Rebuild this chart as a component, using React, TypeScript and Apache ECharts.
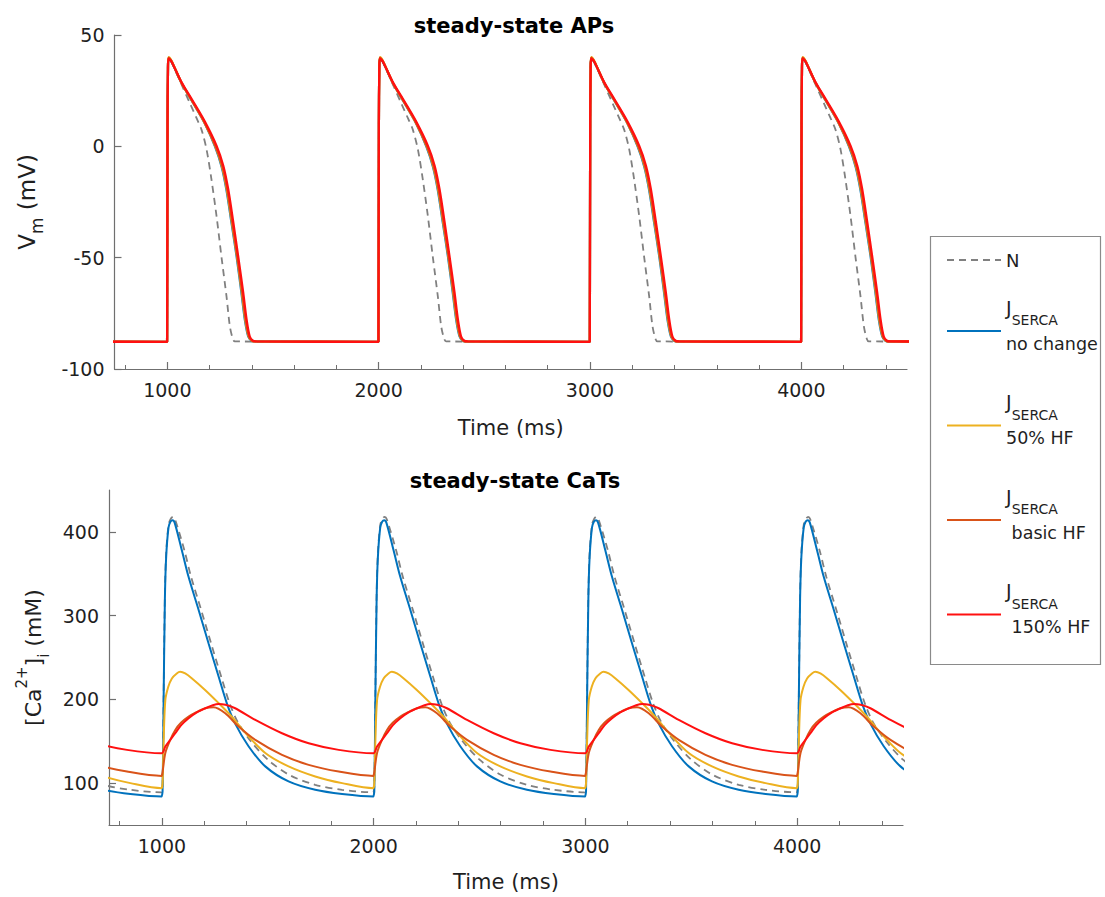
import React, { useEffect, useRef } from "react";
import * as echarts from "echarts";

// ---------- data ----------
// stimulus times of each beat (ms); every beat is the same steady-state waveform
const BEAT_STARTS = [0, 1000, 2000, 3000, 4000];

const X_TICKS = [1000, 2000, 3000, 4000];
const X_MINOR_TICKS = [800, 1200, 1400, 1600, 1800, 2200, 2400, 2600, 2800, 3200, 3400, 3600, 3800, 4200, 4400];
const CA_TICKS = [100, 200, 300, 400];

// ---- action potentials: time after stimulus (ms) / Vm (mV)
const N_AP_T = [0, 1, 3, 6, 20, 68, 107, 140, 162, 186, 209, 233, 256, 280, 296, 310, 319, 999];
const N_AP = [-87.6, 10, 35, 39.5, 37.8, 27.6, 19.3, 12.3, 7.4, -1.6, -15, -31.5, -49.5, -67.4, -80.9, -86.5, -87.6, -87.8];

const BLUE_AP_T = [0, 1, 3, 6, 20, 68, 115, 178, 226, 257, 280, 304, 328, 351, 367, 383, 398, 415, 999];
const BLUE_AP = [-87.6, 10, 35, 39.5, 38, 28.3, 20.6, 10.2, -0.1, -9.1, -19.6, -34.5, -49.5, -65.9, -77.9, -85.4, -87.3, -87.6, -87.8];

const YEL_AP_T = [0, 1, 3, 6, 20, 68, 115, 178, 228, 259, 282, 306, 330, 353, 369, 385, 400, 417, 999];
const YEL_AP = [-87.6, 10, 35, 40, 38.3, 28.3, 20.7, 10.3, -0.1, -9.1, -19.6, -34.5, -49.5, -65.9, -77.9, -85.4, -87.3, -87.6, -87.8];

const ORG_AP_T = [0, 1, 3, 6, 20, 68, 115, 178, 229, 261, 284, 308, 331, 355, 371, 386, 401, 418, 999];
const ORG_AP = [-87.6, 10, 35, 39.8, 38.2, 28.3, 20.8, 10.4, -0.1, -9.1, -19.6, -34.5, -49.5, -65.9, -77.9, -85.4, -87.3, -87.6, -87.8];

const RED_AP_T = [0, 1, 3, 6, 20, 68, 115, 178, 233, 265, 288, 312, 335, 359, 375, 390, 405, 422, 999];
const RED_AP = [-87.6, 10, 35, 39.5, 38, 28.6, 21.2, 11, 0.2, -8.8, -19.3, -34.2, -49.3, -65.7, -77.8, -85.4, -87.3, -87.6, -87.8];

// ---- calcium transients: time after stimulus (ms) / [Ca2+]i
const N_CA_T = [0, 3, 8, 14, 20, 31, 40, 52, 62, 106, 138, 185, 232, 280, 320, 360, 420, 500, 600, 724, 851, 999];
const N_CA = [89, 95, 205, 325, 375, 408, 415, 418, 415, 378, 346, 307, 267, 227, 195, 172, 150, 128, 110, 98, 92, 89];

const BLUE_CA_T = [0, 3, 8, 14, 20, 31, 40, 50, 60, 94, 126, 173, 220, 268, 307, 346, 409, 488, 598, 724, 851, 999];
const BLUE_CA = [84, 90, 200, 320, 370, 405, 412, 414, 411, 378, 346, 307, 267, 227, 195, 171, 144, 120, 102, 92, 87, 84];

const YEL_CA_T = [0, 3, 8, 16, 30, 47, 70, 86, 110, 142, 205, 268, 331, 394, 488, 598, 724, 851, 999];
const YEL_CA = [94, 100, 150, 199, 215, 225, 231, 233, 231, 225, 211, 195.5, 179, 160, 136, 120, 108, 100, 94];

const ORG_CA_T = [0, 3, 16, 40, 63, 90, 126, 165, 205, 244, 299, 362, 441, 567, 693, 835, 999];
const ORG_CA = [108.6, 113, 136, 152, 163.5, 172, 179.4, 185, 189.4, 190.6, 183.4, 167.5, 151.6, 133.7, 121.8, 113.8, 108.6];

const RED_CA_T = [0, 5, 16, 40, 63, 90, 126, 165, 205, 240, 268, 300, 346, 441, 567, 693, 835, 999];
const RED_CA = [135.7, 137, 143.6, 152, 159.6, 169, 177.5, 184.5, 189.4, 193, 194.5, 193.5, 189.4, 175.5, 159.6, 147.6, 139.7, 135.7];

const NAMES = ["N", "no change", "50% HF", " basic HF", " 150% HF"];
const COLORS = ["#808080", "#0072BD", "#EDB120", "#D95319", "#FF1010"];

// ---------- helpers ----------
function beats(offsets: number[], values: number[]) {
  const out: number[][] = [];
  for (const b of BEAT_STARTS) {
    for (let i = 0; i < offsets.length; i++) out.push([b + offsets[i], values[i]]);
  }
  return out;
}

const FONT = "'DejaVu Sans', 'Liberation Sans', Arial, sans-serif";
const AXIS_COLOR = "#6f6f6f";
const TEXT_COLOR = "#1f1f1f";

function lineSeries(idx: number, data: number[][], ap: boolean) {
  const dashed = idx === 0;
  return {
    type: "line",
    name: NAMES[idx],
    xAxisIndex: ap ? 0 : 2,
    yAxisIndex: ap ? 0 : 1,
    data,
    symbol: "none",
    showSymbol: false,
    smooth: 0.3,
    clip: true,
    color: COLORS[idx],
    lineStyle: {
      color: COLORS[idx],
      width: dashed ? 1.8 : ap ? 2.3 : 2,
      type: dashed ? [7, 5] : "solid",
    },
    emphasis: { disabled: true },
    z: 2 + idx,
  };
}

function xAxes(gridIndex: number) {
  return [
    {
      type: "value",
      gridIndex,
      min: 750,
      max: 4500,
      position: "bottom",
      name: "Time (ms)",
      nameLocation: "middle",
      nameGap: gridIndex === 0 ? 48 : 46,
      nameTextStyle: { fontSize: 21, color: TEXT_COLOR, fontFamily: FONT },
      axisLine: { show: true, onZero: false, lineStyle: { color: AXIS_COLOR, width: 1.2 } },
      axisTick: { show: true, inside: true, length: 7, customValues: X_TICKS, lineStyle: { color: AXIS_COLOR, width: 1.2 } },
      axisLabel: {
        show: true,
        customValues: X_TICKS,
        margin: 11,
        fontSize: 19,
        color: TEXT_COLOR,
        fontFamily: FONT,
        formatter: (v: number) => String(v),
      },
      splitLine: { show: false },
    },
    {
      type: "value",
      gridIndex,
      min: 750,
      max: 4500,
      position: "bottom",
      axisLine: { show: false, onZero: false },
      axisTick: { show: true, inside: true, length: 4, customValues: X_MINOR_TICKS, lineStyle: { color: AXIS_COLOR, width: 1 } },
      axisLabel: { show: false },
      splitLine: { show: false },
    },
  ];
}

const legendRich = {
  t: { fontSize: 18, lineHeight: 22, color: TEXT_COLOR, fontFamily: FONT },
  j: { fontSize: 19, lineHeight: 8, color: TEXT_COLOR, fontFamily: FONT },
  g: { fontSize: 18, lineHeight: 17, color: TEXT_COLOR, fontFamily: FONT },
  s: { fontSize: 14, lineHeight: 17, color: TEXT_COLOR, fontFamily: FONT },
  u: { fontSize: 17.5, lineHeight: 30, color: TEXT_COLOR, fontFamily: FONT },
};

const option: any = {
  animation: false,
  backgroundColor: "#ffffff",
  textStyle: { fontFamily: FONT },
  title: [
    {
      text: "steady-state APs",
      left: 509,
      top: 10,
      textAlign: "center",
      textStyle: { fontSize: 21, fontWeight: "bold", color: "#000", fontFamily: FONT },
    },
    {
      text: "steady-state CaTs",
      left: 510,
      top: 465,
      textAlign: "center",
      textStyle: { fontSize: 21, fontWeight: "bold", color: "#000", fontFamily: FONT },
    },
  ],
  grid: [
    { left: 113, width: 794, top: 35, height: 334, containLabel: false },
    { left: 109, width: 794, top: 490, height: 335, containLabel: false },
  ],
  xAxis: [...xAxes(0), ...xAxes(1)],
  yAxis: [
    {
      type: "value",
      gridIndex: 0,
      min: -100,
      max: 50,
      interval: 50,
      name: "{a|V}{b|m}{a| (mV)}",
      nameLocation: "middle",
      nameRotate: 90,
      nameGap: 76,
      nameTextStyle: {
        rich: {
          a: { fontSize: 23, lineHeight: 24, color: TEXT_COLOR, fontFamily: FONT },
          b: { fontSize: 17, lineHeight: 16, padding: [20, 0, 0, 0], color: TEXT_COLOR, fontFamily: FONT },
        },
      },
      axisLine: { show: true, onZero: false, lineStyle: { color: AXIS_COLOR, width: 1.2 } },
      axisTick: { show: true, inside: true, length: 7, lineStyle: { color: AXIS_COLOR, width: 1.2 } },
      axisLabel: { margin: 10, fontSize: 19, color: TEXT_COLOR, fontFamily: FONT },
      splitLine: { show: false },
    },
    {
      type: "value",
      gridIndex: 1,
      min: 50,
      max: 450,
      name: "{a|[Ca}{p|2+}{a|]}{b|i}{a| (mM)}",
      nameLocation: "middle",
      nameRotate: 90,
      nameGap: 64,
      nameTextStyle: {
        rich: {
          a: { fontSize: 22, lineHeight: 24, color: TEXT_COLOR, fontFamily: FONT },
          p: { fontSize: 15, lineHeight: 16, padding: [0, 0, 22, 0], color: TEXT_COLOR, fontFamily: FONT },
          b: { fontSize: 15, lineHeight: 16, padding: [22, 0, 0, 0], color: TEXT_COLOR, fontFamily: FONT },
        },
      },
      axisLine: { show: true, onZero: false, lineStyle: { color: AXIS_COLOR, width: 1.2 } },
      axisTick: { show: true, inside: true, length: 7, customValues: CA_TICKS, lineStyle: { color: AXIS_COLOR, width: 1.2 } },
      axisLabel: { customValues: CA_TICKS, margin: 10, fontSize: 19, color: TEXT_COLOR, fontFamily: FONT },
      splitLine: { show: false },
    },
  ],
  legend: [
    {
      data: [NAMES[0]],
      orient: "vertical",
      left: 946,
      top: 251,
      padding: 0,
      itemWidth: 54,
      itemHeight: 14,
      selectedMode: false,
      itemStyle: { opacity: 0 },
      formatter: (name: string) => `{t|${name}}`,
      textStyle: { rich: legendRich },
    },
    {
      data: NAMES.slice(1),
      orient: "vertical",
      left: 946,
      top: 298,
      padding: 0,
      itemGap: 40,
      itemWidth: 54,
      itemHeight: 14,
      selectedMode: false,
      itemStyle: { opacity: 0 },
      formatter: (name: string) => `{j|J}\n{g| }{s|SERCA}\n{u|${name}}`,
      textStyle: { rich: legendRich },
    },
  ],
  graphic: [
    {
      type: "rect",
      z: -1,
      shape: { x: 930.5, y: 236.5, width: 170, height: 428 },
      style: { fill: "rgba(0,0,0,0)", stroke: "#8a8a8a", lineWidth: 1.2 },
    },
  ],
  series: [
    lineSeries(0, beats(N_AP_T, N_AP), true),
    lineSeries(1, beats(BLUE_AP_T, BLUE_AP), true),
    lineSeries(2, beats(YEL_AP_T, YEL_AP), true),
    lineSeries(3, beats(ORG_AP_T, ORG_AP), true),
    lineSeries(4, beats(RED_AP_T, RED_AP), true),
    lineSeries(0, beats(N_CA_T, N_CA), false),
    lineSeries(1, beats(BLUE_CA_T, BLUE_CA), false),
    lineSeries(2, beats(YEL_CA_T, YEL_CA), false),
    lineSeries(3, beats(ORG_CA_T, ORG_CA), false),
    lineSeries(4, beats(RED_CA_T, RED_CA), false),
  ],
};

export default function App() {
  const ref = useRef<HTMLDivElement>(null);
  useEffect(() => {
    if (!ref.current) return;
    const chart = echarts.init(ref.current, null, { renderer: "svg" });
    chart.setOption(option);
    return () => chart.dispose();
  }, []);
  return (
    <div
      ref={ref}
      style={{ position: "absolute", left: 0, top: 0, width: 1105, height: 897, background: "#fff" }}
    />
  );
}
